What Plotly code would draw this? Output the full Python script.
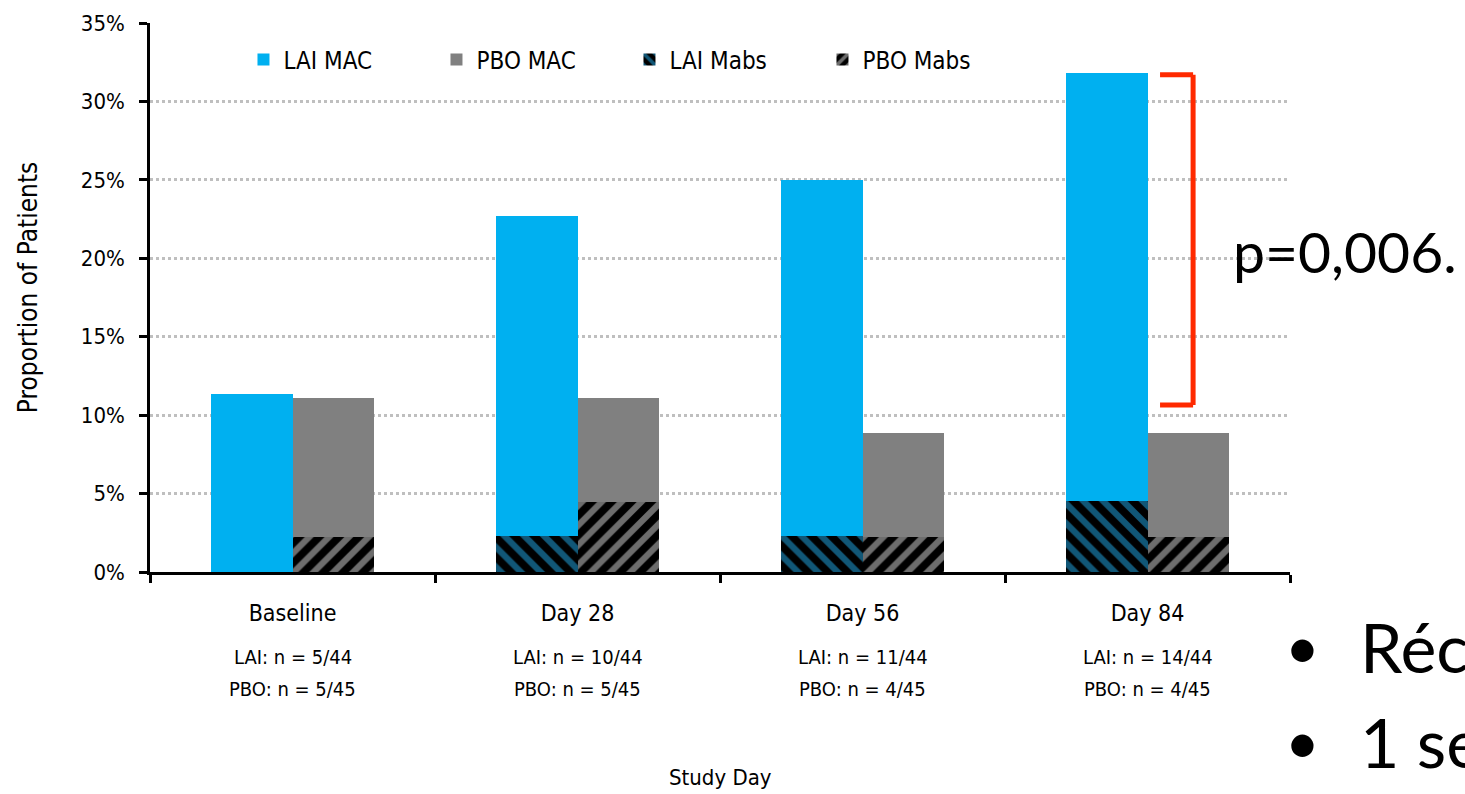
import plotly.graph_objects as go

# Study visits and patient counts
visits = ["Baseline", "Day 28", "Day 56", "Day 84"]
lai_total_n = [5, 10, 11, 14]
pbo_total_n = [5, 5, 4, 4]
lai_mabs_n = [0, 1, 1, 2]
pbo_mabs_n = [1, 2, 1, 1]
lai_N = 44
pbo_N = 45

series_names = ["LAI MAC", "PBO MAC", "LAI Mabs", "PBO Mabs"]
y_ticks = [0, 5, 10, 15, 20, 25, 30, 35]
p_value_text = "p=0,006."
bullet_lines = ["Réc", "1 se"]


def pct(counts, n):
    return [100.0 * c / n for c in counts]


lai_mabs = pct(lai_mabs_n, lai_N)
lai_mac = pct([t - m for t, m in zip(lai_total_n, lai_mabs_n)], lai_N)
pbo_mabs = pct(pbo_mabs_n, pbo_N)
pbo_mac = pct([t - m for t, m in zip(pbo_total_n, pbo_mabs_n)], pbo_N)

pos = list(range(len(visits)))
off = 0.143
bw = 0.286
lai_x = [p - off for p in pos]
pbo_x = [p + off for p in pos]

BLUE = "#00B0F0"
GREY = "#808080"
NARROW = "Liberation Sans Narrow, Arial Narrow, DejaVu Sans Condensed, sans-serif"

fig = go.Figure()
fig.add_trace(go.Bar(name=series_names[0], x=lai_x, y=lai_mac, base=lai_mabs, width=bw,
                     marker=dict(color=BLUE, line=dict(width=0))))
fig.add_trace(go.Bar(name=series_names[1], x=pbo_x, y=pbo_mac, base=pbo_mabs, width=bw,
                     marker=dict(color=GREY, line=dict(width=0))))
fig.add_trace(go.Bar(name=series_names[2], x=lai_x, y=lai_mabs, width=bw,
                     marker=dict(color="black", line=dict(width=0),
                                 pattern=dict(shape="\\", fgcolor="#22AEEE", bgcolor="black",
                                              size=14, solidity=0.45))))
fig.add_trace(go.Bar(name=series_names[3], x=pbo_x, y=pbo_mabs, width=bw,
                     marker=dict(color="black", line=dict(width=0),
                                 pattern=dict(shape="/", fgcolor="#D9D9D9", bgcolor="black",
                                              size=14, solidity=0.45))))

# Count labels under each visit
annotations = []
for p, ln, pn in zip(pos, lai_total_n, pbo_total_n):
    annotations.append(dict(x=p, y=-0.181, xref="x", yref="paper", showarrow=False,
                            text=f"LAI: n = {ln}/{lai_N}", font=dict(size=20, family=NARROW, color="black")))
    annotations.append(dict(x=p, y=-0.239, xref="x", yref="paper", showarrow=False,
                            text=f"PBO: n = {pn}/{pbo_N}", font=dict(size=20, family=NARROW, color="black")))

annotations.append(dict(x=0.5, y=-0.4, xref="paper", yref="paper", showarrow=False,
                        text="Study Day", font=dict(size=22, family=NARROW, color="black")))

# Y-axis title
annotations.append(dict(x=-0.107, y=0.517, xref="paper", yref="paper", showarrow=False, textangle=-90,
                        xanchor="center", yanchor="middle",
                        text="Proportion of Patients", font=dict(size=26, family=NARROW, color="black")))

# Significance label
annotations.append(dict(x=0.948, y=0.585, xref="paper", yref="paper", xanchor="left", yanchor="middle",
                        showarrow=False, text=p_value_text,
                        font=dict(size=57, family="Lato, Carlito, sans-serif", color="black")))

# Side text bullets
for i, line in enumerate(bullet_lines):
    yy = -0.135 - i * 0.173
    annotations.append(dict(x=0.994, y=yy, xref="paper", yref="paper", xanchor="left", yanchor="middle",
                            showarrow=False, text="•",
                            font=dict(size=60, family="Lato, sans-serif", color="black")))
    annotations.append(dict(x=1.06, y=yy, xref="paper", yref="paper", xanchor="left", yanchor="middle",
                            showarrow=False, text=line,
                            font=dict(size=68, family="Lato, sans-serif", color="black")))

# Red bracket spanning the Day 84 comparison
RED = "#FF2A00"
bx0, bx1 = 3.044, 3.16
by_top, by_bot = 31.7, 10.65
shapes = [
    dict(type="line", xref="x", yref="y", x0=bx1, x1=bx1, y0=by_bot, y1=by_top, line=dict(color=RED, width=5)),
    dict(type="line", xref="x", yref="y", x0=bx0, x1=bx1, y0=by_top, y1=by_top, line=dict(color=RED, width=5)),
    dict(type="line", xref="x", yref="y", x0=bx0, x1=bx1, y0=by_bot, y1=by_bot, line=dict(color=RED, width=5)),
]

fig.update_layout(
    width=1465, height=794,
    margin=dict(l=150, r=175, t=23, b=222),
    paper_bgcolor="white", plot_bgcolor="white",
    barmode="overlay",
    bargap=0,
    font=dict(family=NARROW, color="black"),
    showlegend=True,
    legend=dict(orientation="h", x=0.082, y=0.933, xanchor="left", yanchor="middle",
                entrywidth=148, entrywidthmode="pixels",
                font=dict(size=24, family=NARROW, color="black"),
                bgcolor="rgba(0,0,0,0)", traceorder="normal"),
    annotations=annotations,
    shapes=shapes,
)

fig.update_xaxes(
    range=[-0.5, 3.5],
    tickvals=pos, ticktext=visits, ticks="",
    tickfont=dict(size=23, family=NARROW, color="black"),
    showline=True, linecolor="black", linewidth=2.5,
    showgrid=False, zeroline=False,
    minor=dict(tickvals=[-0.5, 0.5, 1.5, 2.5, 3.5], ticks="outside", ticklen=8,
               tickwidth=2.5, tickcolor="black", showgrid=False),
    ticklabelstandoff=19,
)

fig.update_yaxes(
    range=[0, 35], tickvals=y_ticks, ticktext=[f"{v}%" for v in y_ticks],
    tickfont=dict(size=22, family=NARROW, color="black"),
    ticks="outside", ticklen=8, tickwidth=2.5, tickcolor="black",
    showline=True, linecolor="black", linewidth=2.5,
    showgrid=True, gridcolor="#BFBFBF", gridwidth=2.5, griddash="dot",
    zeroline=False, ticklabelstandoff=10,
)

fig.write_html("out.html")
